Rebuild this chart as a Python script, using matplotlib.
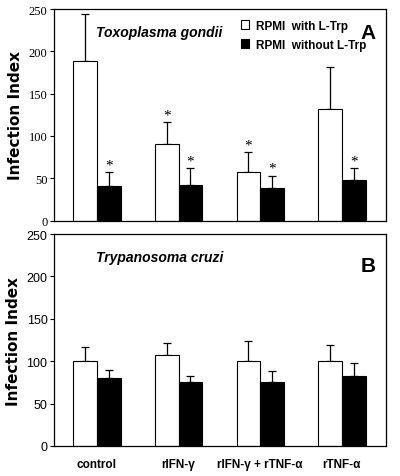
import numpy as np
import matplotlib
matplotlib.use("Agg")
import matplotlib.pyplot as plt
from matplotlib.patches import Patch

groups = ['control', 'rIFN-γ', 'rIFN-γ + rTNF-α', 'rTNF-α']

# panel A: Toxoplasma gondii
toxo_with = [189, 90, 57, 132]
toxo_with_err = [55, 26, 24, 50]
toxo_without = [41, 42, 39, 48]
toxo_without_err = [16, 20, 14, 14]
toxo_star_with = [False, True, True, False]
toxo_star_without = [True, True, True, True]

# panel B: Trypanosoma cruzi
cruzi_with = [100, 107, 100, 100]
cruzi_with_err = [17, 15, 24, 19]
cruzi_without = [80, 75, 75, 83]
cruzi_without_err = [10, 8, 13, 15]

x = np.arange(len(groups))
w = 0.29

fig = plt.figure(figsize=(4.0, 4.77), dpi=100)
axA = fig.add_axes([0.136, 0.5356, 0.829, 0.4434])
axB = fig.add_axes([0.136, 0.0629, 0.829, 0.4444])


def draw(ax, yw, ew, yb, eb, tickfont):
    ax.bar(x - w/2, yw, w, color='white', edgecolor='black', linewidth=0.8, zorder=2)
    ax.bar(x + w/2, yb, w, color='black', edgecolor='black', linewidth=0.8, zorder=2)
    ax.errorbar(x - w/2, yw, yerr=[np.zeros(4), ew], fmt='none', ecolor='black',
                elinewidth=0.9, capsize=3, capthick=0.9, zorder=1)
    ax.errorbar(x + w/2, yb, yerr=[np.zeros(4), eb], fmt='none', ecolor='black',
                elinewidth=0.9, capsize=3, capthick=0.9, zorder=1)
    ax.set_xlim(-0.52, 3.54)
    ax.set_ylim(0, 250)
    ax.set_yticks([0, 50, 100, 150, 200, 250])
    ax.tick_params(axis='x', length=0)
    ax.tick_params(axis='y', direction='out', length=3, width=0.8, pad=2)
    for lab in ax.get_yticklabels():
        lab.set_family(tickfont)
        lab.set_fontsize(9)
    for s in ax.spines.values():
        s.set_linewidth(0.9)
    ax.set_ylabel('Infection Index', fontsize=11, fontweight='bold', labelpad=4)


draw(axA, toxo_with, toxo_with_err, toxo_without, toxo_without_err, 'Liberation Serif')
axA.set_xticks([])
for i in range(4):
    if toxo_star_with[i]:
        axA.text(x[i] - w/2, toxo_with[i] + toxo_with_err[i] + 1, '*', ha='center',
                 va='bottom', fontsize=11, family='Liberation Serif')
    if toxo_star_without[i]:
        axA.text(x[i] + w/2, toxo_without[i] + toxo_without_err[i] + 1, '*', ha='center',
                 va='bottom', fontsize=11, family='Liberation Serif')
axA.text(0.125, 0.89, 'Toxoplasma gondii', transform=axA.transAxes, fontsize=10,
         fontweight='bold', style='italic', family='Liberation Sans', va='center')
axA.text(0.968, 0.89, 'A', transform=axA.transAxes, fontsize=15, fontweight='bold',
         family='Liberation Sans', ha='right', va='center')
handles = [Patch(facecolor='white', edgecolor='black', linewidth=0.8),
           Patch(facecolor='black', edgecolor='black', linewidth=0.8)]
axA.legend(handles, ['RPMI  with L-Trp', 'RPMI  without L-Trp'], loc='upper left',
           bbox_to_anchor=(0.53, 1.0), frameon=False, handlelength=0.7, handleheight=0.7,
           handletextpad=0.55, labelspacing=0.6,
           prop={'family': 'Liberation Sans', 'weight': 'bold', 'size': 8.5})

draw(axB, cruzi_with, cruzi_with_err, cruzi_without, cruzi_without_err, 'Liberation Sans')
axB.set_xticks(x)
axB.set_xticklabels(groups, fontsize=8.5, fontweight='bold', family='Liberation Sans')
axB.tick_params(axis='x', pad=9)
axB.text(0.125, 0.89, 'Trypanosoma cruzi', transform=axB.transAxes, fontsize=10,
         fontweight='bold', style='italic', family='Liberation Sans', va='center')
axB.text(0.968, 0.85, 'B', transform=axB.transAxes, fontsize=15, fontweight='bold',
         family='Liberation Sans', ha='right', va='center')

fig.savefig('out.png', dpi=100)
